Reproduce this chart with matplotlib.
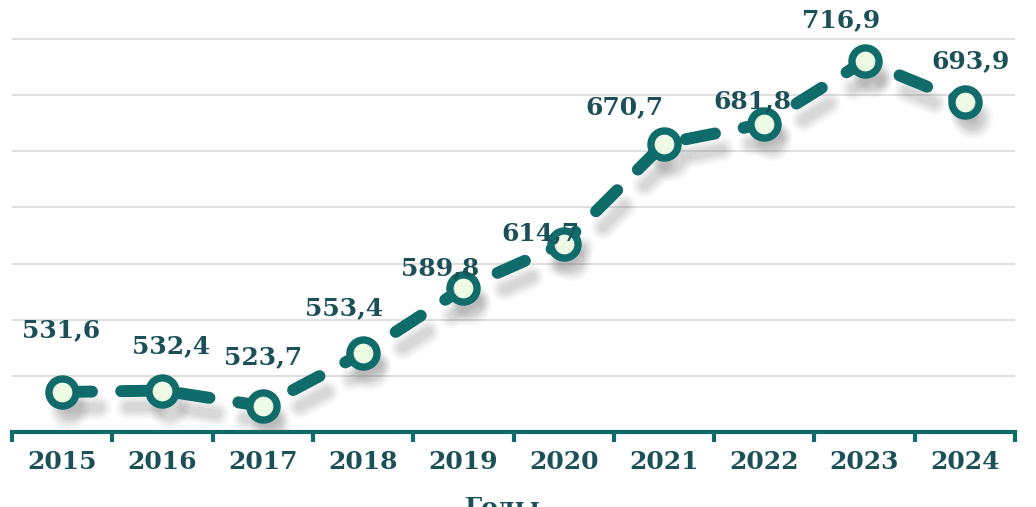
import numpy as np
import matplotlib
matplotlib.use("Agg")
import matplotlib.pyplot as plt
from matplotlib import transforms

years = ["2015", "2016", "2017", "2018", "2019", "2020", "2021", "2022", "2023", "2024"]
values = [531.6, 532.4, 523.7, 553.4, 589.8, 614.7, 670.7, 681.8, 716.9, 693.9]
labels = ["531,6", "532,4", "523,7", "553,4", "589,8", "614,7", "670,7", "681,8", "716,9", "693,9"]
x_title = "Годы"

# label offsets in pixels (layout only)
label_offsets = [(-1, 62), (9, 44), (0, 49), (-19, 45), (-23, 20), (-23, 10),
                 (-40, 36), (-12, 23), (-23, 41), (6, 41)]

plt.rcParams["lines.scale_dashes"] = False

W, H = 1036, 507
fig = plt.figure(figsize=(W / 100, H / 100), dpi=100)
ax = fig.add_axes([12 / W, (H - 432) / H, 1003 / W, 432 / H])

teal = "#0f6c6b"
text_col = "#1b5058"
fill_col = "#eefbe4"
dash = (0, (21.5, 21.0))

x = np.arange(len(years))
ax.set_xlim(-0.5, len(years) - 0.5)
ymin = 509.2
ax.set_ylim(ymin, ymin + 432 / 1.786)

# gridlines
for gy in np.linspace(ymin, ymin + 220, 8)[1:]:
    ax.axhline(gy, color="#dcdcdc", lw=1.3, zorder=0)

# soft shadow (layered strokes)
for lw, a in [(18, 0.04), (15, 0.05), (12, 0.06), (9, 0.07), (6, 0.07)]:
    off = transforms.offset_copy(ax.transData, fig=fig, x=7, y=-16, units="dots")
    ax.plot(x, values, color="#6f6f6f", lw=lw, alpha=a, transform=off,
            linestyle=dash, dash_capstyle="round", zorder=1)
    ax.plot(x, values, ls="none", marker="o", ms=lw + 12, mec="none", mfc="#6f6f6f",
            alpha=a, transform=off, zorder=1)

# dashed line
ax.plot(x, values, color=teal, lw=8.6, linestyle=dash,
        dash_capstyle="round", zorder=3)
# markers
ax.plot(x, values, ls="none", marker="o", ms=19.5, mew=5.3, mec=teal, mfc=fill_col, zorder=4)

for xi, v, lab, (dx, dy) in zip(x, values, labels, label_offsets):
    ax.annotate(lab, (xi, v), xytext=(dx, dy), textcoords="offset pixels",
                ha="center", va="center", fontsize=18, fontweight="bold",
                family="DejaVu Serif", color=text_col, zorder=5)

# axes styling
for s in ["top", "right", "left"]:
    ax.spines[s].set_visible(False)
ax.spines["bottom"].set_color(teal)
ax.spines["bottom"].set_linewidth(3)
ax.set_yticks([])
ax.set_xticks(x)
ax.set_xticklabels(years, fontsize=18, fontweight="bold", family="DejaVu Serif", color=text_col)
ax.tick_params(axis="x", which="major", length=0, pad=13)
ax.set_xticks(np.arange(-0.5, len(years)), minor=True)
ax.tick_params(axis="x", which="minor", length=7, width=3, color=teal)

fig.text(0.485, 0.0, x_title, ha="center", va="center", fontsize=18,
         fontweight="bold", family="DejaVu Serif", color=text_col)

fig.savefig("out.png", dpi=100)
